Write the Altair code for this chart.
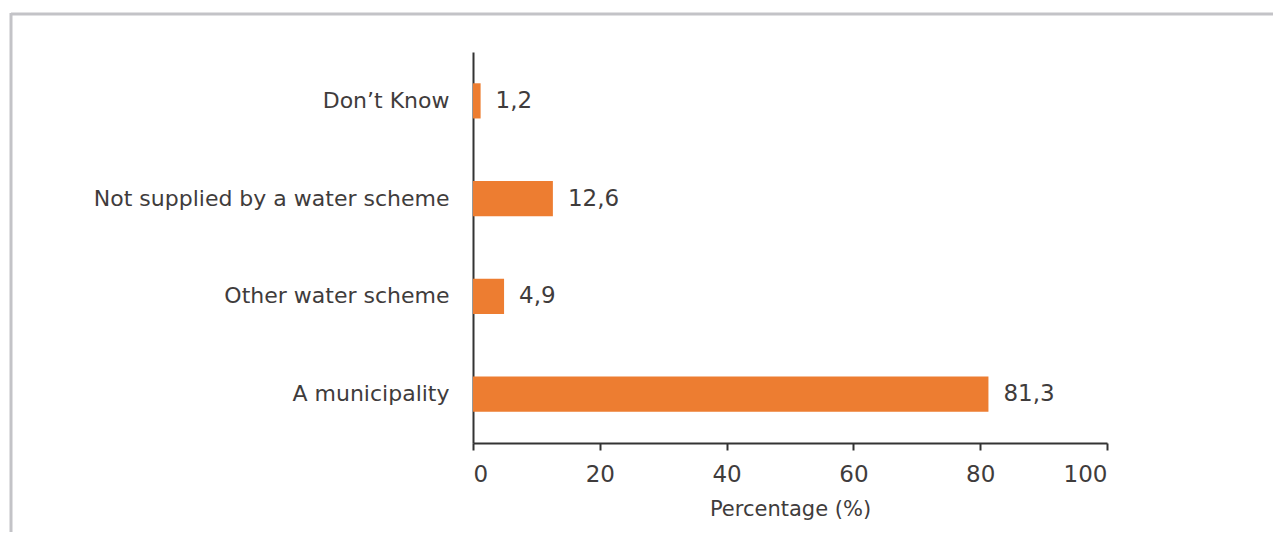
import altair as alt
import pandas as pd

categories = ["Don\u2019t Know", "Not supplied by a water scheme", "Other water scheme", "A municipality"]
values = [1.2, 12.6, 4.9, 81.3]
x_ticks = [0, 20, 40, 60, 80, 100]

df = pd.DataFrame({"category": categories, "value": values})

FONT = "DejaVu Sans"
TXT = "#3f3c3c"
ORANGE = "#ED7D31"
FRAME = "#c3c3c7"

y_enc = alt.Y(
    "category:N",
    sort=categories,
    scale=alt.Scale(paddingInner=0.64, paddingOuter=0.32),
    axis=alt.Axis(
        title=None, ticks=False, labelPadding=24, labelFontSize=22, labelFont=FONT,
        labelColor=TXT, domainColor="#333333", domainWidth=2, grid=False, labelLimit=500,
    ),
)
x_enc = alt.X(
    "value:Q",
    scale=alt.Scale(domain=[0, 100], nice=False),
    axis=alt.Axis(
        values=x_ticks, title="Percentage (%)", titleFont=FONT, titleFontSize=21,
        titleFontWeight="normal", titleColor=TXT, titlePadding=12,
        labelFont=FONT, labelFontSize=23, labelColor=TXT, labelPadding=13,
        tickSize=7, tickWidth=2, tickColor="#333333", domainColor="#333333",
        domainWidth=2, grid=False,
    ),
)

base = alt.Chart(df)
bars = base.mark_bar(color=ORANGE).encode(x=x_enc, y=y_enc)
labels = base.transform_calculate(
    lbl="replace(format(datum.value, '.1f'), '.', ',')"
).mark_text(
    align="left", baseline="middle", dx=15, font=FONT, fontSize=23, color=TXT
).encode(x="value:Q", y=alt.Y("category:N", sort=categories), text="lbl:N")

dummy = alt.Data(values=[{"a": 1}])
frame_top = alt.Chart(dummy).mark_rule(color=FRAME, strokeWidth=3).encode(
    x=alt.value(-462), x2=alt.value(800), y=alt.value(-38)
)
frame_left = alt.Chart(dummy).mark_rule(color=FRAME, strokeWidth=3).encode(
    x=alt.value(-462), y=alt.value(-39), y2=alt.value(480)
)

chart = alt.layer(bars, labels, frame_top, frame_left).properties(
    width=634, height=391,
    background="white",
    autosize=alt.AutoSizeParams(type="none"),
    padding={"left": 465, "top": 44, "right": 166, "bottom": 90},
).configure_view(strokeWidth=0, stroke=None)

chart.save("out.html", embed_options={"renderer": "svg", "actions": False})
